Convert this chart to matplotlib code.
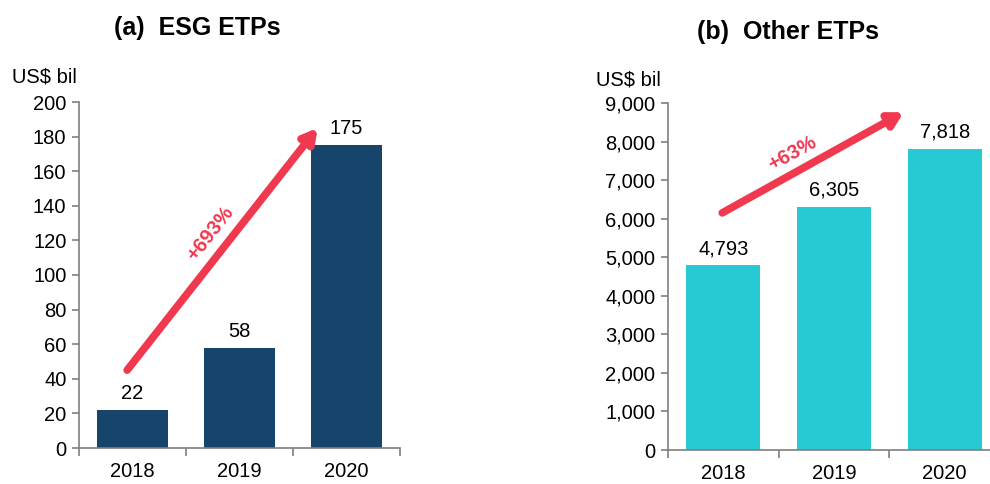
import matplotlib
matplotlib.use("Agg")
import matplotlib.pyplot as plt
import numpy as np

plt.rcParams['font.family'] = ['Liberation Sans', 'DejaVu Sans']

years = ["2018", "2019", "2020"]
esg_values = [22, 58, 175]
other_values = [4793, 6305, 7818]
esg_growth = "+693%"
other_growth = "+63%"

navy = "#16446b"
teal = "#27c9d2"
red = "#f0384f"
spine = "#7f7f7f"
fs = 14.5

fig = plt.figure(figsize=(9.9, 4.84), dpi=100)
ax1 = fig.add_axes([79/990, 36/484, 321/990, 346/484])
ax2 = fig.add_axes([668/990, 34/484, 332/990, 347/484])


def style(ax, ymax, step, fmt):
    x = np.arange(len(years))
    ax.set_xlim(-0.5, len(years) - 0.5)
    ax.set_ylim(0, ymax)
    ax.set_yticks(np.arange(0, ymax + 1, step))
    ax.set_yticklabels([fmt(v) for v in np.arange(0, ymax + 1, step)], fontsize=fs)
    ax.set_xticks(x)
    ax.set_xticklabels(years, fontsize=fs)
    ax.set_xticks(np.arange(-0.5, len(years), 1), minor=True)
    ax.tick_params(axis='x', which='major', length=0, pad=10)
    ax.tick_params(axis='x', which='minor', length=6, width=1.2, color=spine, direction='out')
    ax.tick_params(axis='y', length=5, width=1.2, color=spine, pad=4)
    for s in ['top', 'right']:
        ax.spines[s].set_visible(False)
    for s in ['left', 'bottom']:
        ax.spines[s].set_color(spine)
        ax.spines[s].set_linewidth(1.2)


# (a) ESG ETPs
x = np.arange(len(years))
ax1.bar(x, esg_values, width=0.67, color=navy)
for xi, v in zip(x, esg_values):
    ax1.text(xi, v + 4, f"{v:,}", ha='center', va='bottom', fontsize=fs)
style(ax1, 200, 20, lambda v: f"{int(v)}")
ax1.annotate("", xy=(1.73, 185), xytext=(-0.05, 45),
             arrowprops=dict(arrowstyle="-|>,head_length=0.8,head_width=0.45",
                             color=red, lw=5.5, shrinkA=0, shrinkB=0))
ax1.text(0.73, 124, esg_growth, color=red, fontsize=fs, fontweight='bold',
         rotation=52, ha='center', va='center', rotation_mode='anchor')
fig.text(197/990, 1 - 28/484, "(a)  ESG ETPs", ha='center', va='center',
         fontsize=18, fontweight='bold')
fig.text(44/990, 1 - 77/484, "US$ bil", ha='center', va='center', fontsize=fs)

# (b) Other ETPs
ax2.bar(x, other_values, width=0.67, color=teal)
for xi, v in zip(x, other_values):
    ax2.text(xi, v + 180, f"{v:,}", ha='center', va='bottom', fontsize=fs)
style(ax2, 9000, 1000, lambda v: f"{int(v):,}")
ax2.annotate("", xy=(1.63, 8760), xytext=(-0.01, 6150),
             arrowprops=dict(arrowstyle="-|>,head_length=0.8,head_width=0.45",
                             color=red, lw=5.5, shrinkA=0, shrinkB=0))
ax2.text(0.62, 7700, other_growth, color=red, fontsize=fs, fontweight='bold',
         rotation=29, ha='center', va='center', rotation_mode='anchor')
fig.text(788/990, 1 - 32/484, "(b)  Other ETPs", ha='center', va='center',
         fontsize=18, fontweight='bold')
fig.text(628/990, 1 - 80/484, "US$ bil", ha='center', va='center', fontsize=fs)

fig.savefig("out.png", dpi=100)
